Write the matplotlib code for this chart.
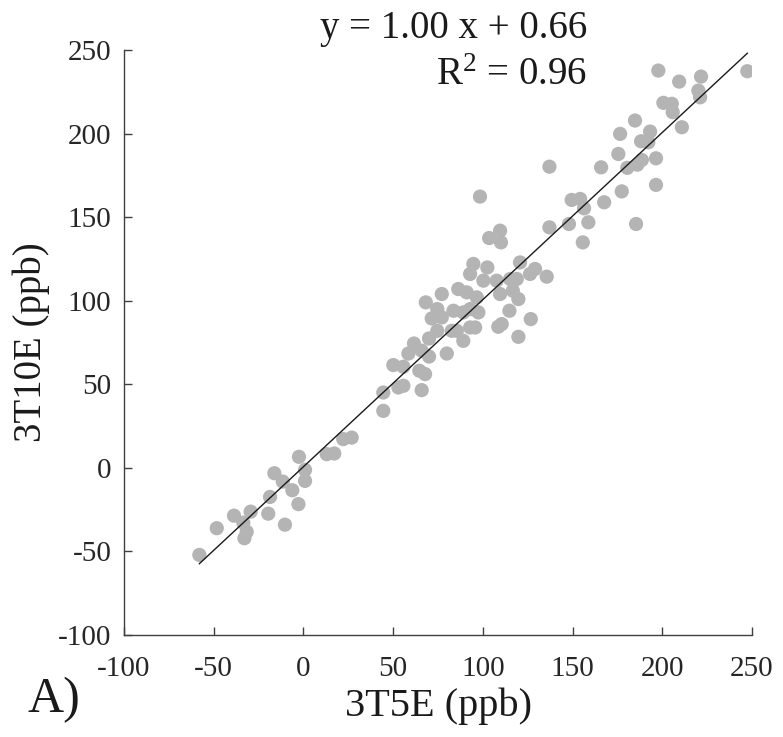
import numpy as np
import matplotlib
matplotlib.use("Agg")
import matplotlib.pyplot as plt

# Data (ppb)
x_3t5e = [
    -58.0, -48.3, -38.7, -29.4, -33.5, -31.6, -32.9, -19.6, -18.6, -16.2,
    -11.5, -10.3, -6.2, -2.8, -2.5, 0.9, 0.9, 13.0, 17.2, 22.2, 26.9,
    44.5, 44.5, 52.9, 55.7, 65.9, 50.1, 55.7, 58.5, 61.6, 64.6,
    67.8, 65.9, 70.0, 70.0, 74.6, 79.9, 68.2, 77.1, 71.5, 74.6,
    77.1, 82.7, 85.5, 83.6, 86.3, 91.0, 89.1, 89.1, 92.9, 95.7,
    92.9, 96.6, 97.5, 94.7, 92.9, 102.5, 100.3, 107.7, 109.6, 108.6,
    110.5, 114.8, 116.7, 119.8, 119.8, 115.2, 118.9, 120.7, 126.3, 129.1,
    135.6, 126.7, 98.4, 109.6, 103.5, 110.1,
    197.8, 247.4, 209.4, 221.6, 220.1, 221.1, 200.6, 205.3, 205.8, 210.9,
    184.8, 176.5, 193.2, 188.2, 192.2, 175.5, 196.5, 188.6, 186.1, 180.5,
    165.9, 137.1, 196.5, 177.4, 167.6, 149.5, 154.2, 156.4, 158.8, 148.0,
    137.1, 185.4, 155.7,
]
y_3t10e = [
    -52.1, -36.1, -28.6, -26.2, -32.8, -38.3, -42.1, -27.4, -17.4, -3.2,
    -8.2, -34.0, -13.4, -21.7, 6.6, -1.2, -7.8, 8.2, 8.6, 17.2, 18.1,
    34.1, 45.1, 48.1, 49.1, 46.5, 61.5, 60.5, 68.4, 74.4, 58.1,
    56.1, 70.1, 66.6, 77.4, 82.0, 68.4, 99.0, 104.0, 89.4, 95.0,
    90.0, 82.0, 82.0, 94.0, 107.0, 105.0, 93.0, 76.0, 84.0, 84.0,
    95.0, 102.0, 93.0, 122.0, 116.0, 119.9, 112.0, 112.0, 104.0, 84.4,
    86.0, 94.0, 106.0, 101.0, 78.4, 113.0, 113.0, 122.9, 116.0, 119.0,
    114.4, 89.0, 162.3, 141.9, 137.5, 134.9,
    237.7, 237.3, 231.1, 234.1, 225.7, 221.7, 218.4, 217.8, 212.8, 203.8,
    207.8, 199.8, 201.2, 195.4, 194.8, 187.8, 185.2, 184.2, 181.4, 179.5,
    179.8, 180.2, 169.3, 165.4, 158.9, 160.3, 160.9, 155.3, 146.9, 145.9,
    143.9, 145.9, 134.9,
]
slope = 1.00
intercept = 0.66
r_squared = 0.96
ticks = [-100, -50, 0, 50, 100, 150, 200, 250]

plt.rcParams['font.family'] = ['Liberation Serif', 'DejaVu Serif']
plt.rcParams['mathtext.fontset'] = 'custom'
plt.rcParams['mathtext.rm'] = 'Liberation Serif'
plt.rcParams['mathtext.it'] = 'Liberation Serif'

W, H = 783, 737
fig = plt.figure(figsize=(W / 100, H / 100), dpi=100)
left, right, top, bottom = 124, 752, 50, 635
ax = fig.add_axes([left / W, 1 - bottom / H, (right - left) / W, (bottom - top) / H])

xd = np.array(x_3t5e)
yd = np.array(y_3t10e)
ax.scatter(xd, yd, s=105, color='#b4b4b4', edgecolors='none', zorder=2)
xs = np.array([xd.min(), xd.max()])
ax.plot(xs, slope * xs + intercept, color='#1a1a1a', lw=1.0, zorder=3)

ax.set_xlim(-100, 250)
ax.set_ylim(-100, 250)
ax.set_xticks(ticks)
ax.set_yticks(ticks)
ax.set_xticklabels([str(t) for t in ticks])
ax.set_yticklabels([str(t) for t in ticks])
for s in ['top', 'right']:
    ax.spines[s].set_visible(False)
for s in ['left', 'bottom']:
    ax.spines[s].set_color('#404040')
    ax.spines[s].set_linewidth(1.0)
ax.tick_params(direction='in', length=6, width=1.0, color='#404040',
               labelsize=21, labelcolor='#262626')
ax.tick_params(axis='x', pad=15)
ax.tick_params(axis='y', pad=9)

ax.set_xlabel('3T5E (ppb)', fontsize=29, color='#1a1a1a', labelpad=4)
ax.set_ylabel('3T10E (ppb)', fontsize=28, color='#1a1a1a', labelpad=6)

fig.text(587 / W, 1 - 38 / H, 'y = %.2f x + %.2f' % (slope, intercept),
         ha='right', va='baseline', fontsize=28, color='#1a1a1a')
fig.text(587 / W, 1 - 85 / H, 'R$^{2}$ = %.2f' % r_squared,
         ha='right', va='baseline', fontsize=28, color='#1a1a1a')
fig.text(28 / W, 1 - 700 / H, 'A)', ha='left', va='center', fontsize=36,
         color='#1a1a1a')

fig.savefig('out.png', dpi=100, facecolor='white')
